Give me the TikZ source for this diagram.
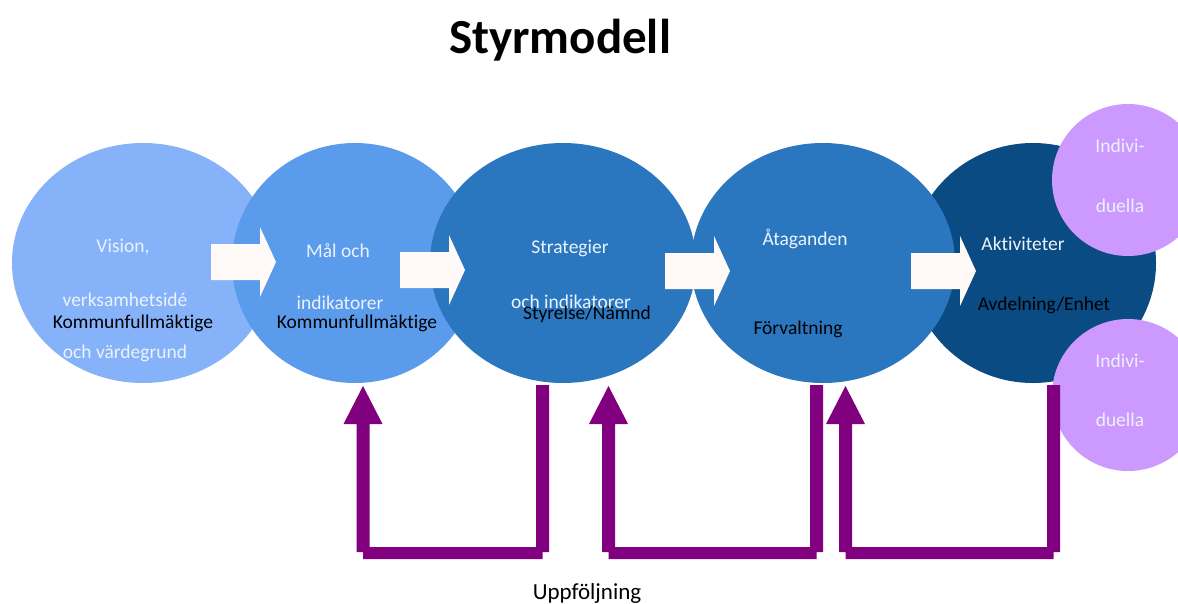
\documentclass[tikz,border=0pt]{standalone}
\usepackage{fontspec}
\setmainfont{Carlito}[Ligatures=NoCommon]
\usetikzlibrary{shapes.geometric,positioning}
\definecolor{visionblue}{RGB}{134,178,250}
\definecolor{malblue}{RGB}{90,155,236}
\definecolor{stratblue}{RGB}{42,119,192}
\definecolor{aktivblue}{RGB}{10,75,132}
\definecolor{indlila}{RGB}{204,153,255}
\definecolor{uppfpurple}{RGB}{128,0,128}
\definecolor{blockwhite}{RGB}{255,250,247}
\definecolor{lighttext}{RGB}{236,242,252}
\tikzset{
   stage/.style={ellipse, inner sep=0pt},
   indcircle/.style={circle, fill=indlila, minimum size=152pt, inner sep=0pt},
   ljus/.style={text=lighttext, font=\fontsize{19.5}{23}\selectfont},
   mork/.style={text=black, font=\fontsize{19.5}{23}\selectfont}
}
\begin{document}
\begin{tikzpicture}[x=1pt,y=-1pt]
\useasboundingbox (0,0) rectangle (1178,603);
\node[font=\fontsize{49}{56}\selectfont\bfseries] (titel) at (560,40) {Styrmodell};
% ellipserna
\node[stage, fill=visionblue, minimum width=262pt, minimum height=240pt] (vision) at (143,263) {};
\node[stage, fill=malblue, minimum width=246pt, minimum height=240pt] (mal) at (355,263) {};
\node[stage, fill=stratblue, minimum width=266pt, minimum height=240pt] (strat) at (563,263) {};
\node[stage, fill=aktivblue, minimum width=246pt, minimum height=240pt] (aktiv) at (1033,263) {};
\node[stage, fill=stratblue, minimum width=264pt, minimum height=240pt] (atag) at (823,263) {};
\node[indcircle] (ind1) at (1128,180) {};
\node[indcircle] (ind2) at (1128,395) {};
% vita blockpilar
\foreach \xa/\ym in {211/262, 400/270, 665/271, 911/271}
  \fill[blockwhite] (\xa,\ym-18) -- (\xa+49,\ym-18) -- (\xa+49,\ym-35) -- (\xa+65,\ym)
     -- (\xa+49,\ym+35) -- (\xa+49,\ym+18) -- (\xa,\ym+18) -- cycle;
% uppfoljningspilar
\foreach \c/\r in {363/542.5, 608.5/816.5, 845.5/1053.5}
  \fill[uppfpurple] (\c-6.5,424) -- (\c-19.5,424) -- (\c,386) -- (\c+19.5,424) -- (\c+6.5,424)
     -- (\c+6.5,547) -- (\r-6.5,547) -- (\r-6.5,385) -- (\r+6.5,385) -- (\r+6.5,552)
     -- (\r,552) -- (\r,559) -- (\c,559) -- (\c,552) -- (\c-6.5,552) -- cycle;
% texter
\node[ljus] (t1a) at (123,247) {Vision,};
\node[ljus] (t1b) at (125,300) {verksamhetsidé};
\node[mork] (t1c) at (133,323) {Kommunfullmäktige};
\node[ljus] (t1d) at (125,353) {och värdegrund};
\node[ljus] (t2a) at (338,251) {Mål och};
\node[ljus] (t2b) at (340,303) {indikatorer};
\node[mork] (t2c) at (357,323) {Kommunfullmäktige};
\node[ljus] (t3a) at (570,248) {Strategier};
\node[ljus] (t3b) at (571,302) {och indikatorer};
\node[mork] (t3c) at (587,314) {Styrelse/Nämnd};
\node[ljus] (t4a) at (805,239) {Åtaganden};
\node[mork] (t4b) at (798,329) {Förvaltning};
\node[ljus] (t5a) at (1023,244) {Aktiviteter};
\node[mork] (t5b) at (1044,305) {Avdelning/Enhet};
\node[ljus] (i1a) at (1120,146) {Indivi-};
\node[ljus] (i1b) at (1120,206) {duella};
\node[ljus] (i2a) at (1120,361) {Indivi-};
\node[ljus] (i2b) at (1120,420) {duella};
\node[font=\fontsize{23}{27}\selectfont] (uppf) at (587,593) {Uppföljning};
\end{tikzpicture}
\end{document}
